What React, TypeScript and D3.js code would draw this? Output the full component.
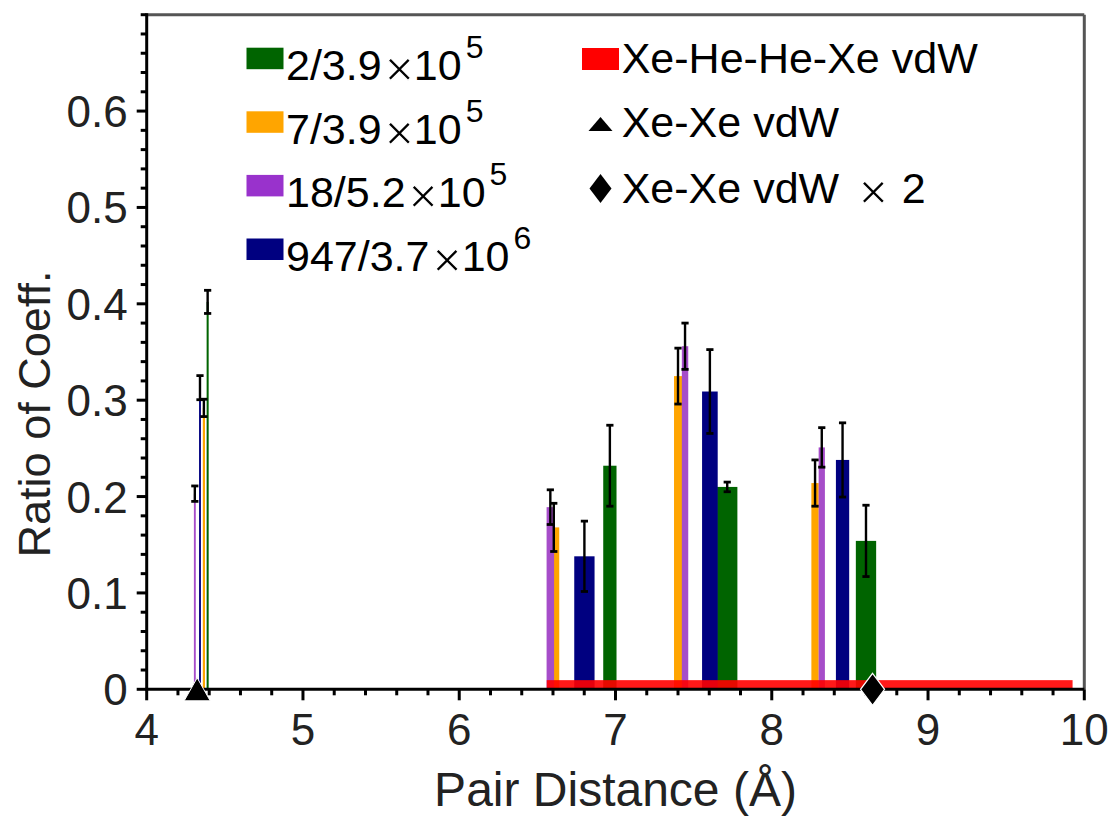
import React from "react";
import * as d3 from "d3";

// ---------- data ----------
const seriesLabels = ["2/3.9", "7/3.9", "18/5.2", "947/3.7"];
const seriesExponents = ["5", "5", "5", "6"];
const seriesColors = ["#006400", "#ffa500", "#a64dc9", "#000080"];
const legendColors = ["#006400", "#ffa500", "#9932cc", "#000080"];

// bar centre (Å), bar width (Å), value, error half-width
const greenX = [4.39, 6.964, 7.715, 8.603];
const greenW = [0.013, 0.085, 0.13, 0.13];
const greenV = [0.402, 0.232, 0.21, 0.154];
const greenE = [0.012, 0.042, 0.005, 0.037];

const orangeX = [4.366, 6.605, 7.4, 8.277];
const orangeW = [0.014, 0.07, 0.051, 0.047];
const orangeV = [0.292, 0.168, 0.325, 0.214];
const orangeE = [0.009, 0.025, 0.029, 0.024];

const purpleX = [4.308, 6.583, 7.445, 8.32];
const purpleW = [0.012, 0.048, 0.041, 0.04];
const purpleV = [0.203, 0.189, 0.356, 0.251];
const purpleE = [0.008, 0.018, 0.024, 0.0205];

const blueX = [4.341, 6.801, 7.604, 8.453];
const blueW = [0.012, 0.13, 0.1, 0.085];
const blueV = [0.313, 0.138, 0.309, 0.238];
const blueE = [0.0125, 0.0365, 0.0435, 0.0385];

const seriesX = [greenX, orangeX, purpleX, blueX];
const seriesW = [greenW, orangeW, purpleW, blueW];
const seriesV = [greenV, orangeV, purpleV, blueV];
const seriesE = [greenE, orangeE, purpleE, blueE];

const vdwBand = [6.56, 9.925]; // Xe-He-He-Xe vdW range
const vdwBandHeight = 0.0095;
const xeXeVdw = 4.323;
const xeXeVdw2 = 8.645;

const xTickValues = [4, 5, 6, 7, 8, 9, 10];
const yTickValues = [0, 0.1, 0.2, 0.3, 0.4, 0.5, 0.6];

const xLabel = "Pair Distance (Å)";
const yLabel = "Ratio of Coeff.";
const rightLegend = ["Xe-He-He-Xe vdW", "Xe-Xe vdW", "Xe-Xe vdW"];

// ---------- layout ----------
const W = 1111;
const H = 820;
const left = 146.7;
const right = 1084.3;
const top = 14.7;
const bottom = 689.3;
const FONT = "'Liberation Sans', Arial, Helvetica, sans-serif";

export default function App() {
  const x = d3.scaleLinear().domain([4, 10]).range([left, right]);
  const y = d3.scaleLinear().domain([0, 0.7]).range([bottom, top]);

  const xMinor = d3.range(4, 10.001, 0.2).filter(
    (v) => Math.abs(v - Math.round(v)) > 1e-6
  );
  const yMinor = d3.range(0, 0.7001, 0.02).filter(
    (v) => Math.abs(v * 10 - Math.round(v * 10)) > 1e-6 || v > 0.65
  );

  const bars: any[] = [];
  seriesX.forEach((xs, s) => {
    xs.forEach((c, i) => {
      bars.push({
        s,
        c,
        w: seriesW[s][i],
        v: seriesV[s][i],
        e: seriesE[s][i],
      });
    });
  });

  const tri = (cx: number, cy: number, w: number, h: number) =>
    `M${cx},${cy - h / 2}L${cx + w / 2},${cy + h / 2}L${cx - w / 2},${cy + h / 2}Z`;
  const dia = (cx: number, cy: number, w: number, h: number) =>
    `M${cx},${cy - h / 2}L${cx + w / 2},${cy}L${cx},${cy + h / 2}L${cx - w / 2},${cy}Z`;

  const capHalf = 3.6;
  const timesProps = {
    fontSize: 50,
    stroke: "#fff",
    strokeWidth: 1.2,
  };

  return (
    <svg
      width={W}
      height={H}
      style={{ position: "absolute", left: 0, top: 0, background: "#fff" }}
      fontFamily={FONT}
    >
      <rect x={0} y={0} width={W} height={H} fill="#fff" />

      {/* bars */}
      {bars.map((b, i) => (
        <rect
          key={"b" + i}
          x={x(b.c - b.w / 2)}
          width={x(b.c + b.w / 2) - x(b.c - b.w / 2)}
          y={y(b.v)}
          height={y(0) - y(b.v)}
          fill={seriesColors[b.s]}
        />
      ))}

      {/* error bars */}
      {bars.map((b, i) => {
        const cx = x(b.c);
        const y1 = y(b.v + b.e);
        const y2 = y(b.v - b.e);
        return (
          <g key={"e" + i} stroke="#000" strokeWidth={2.4}>
            <line x1={cx} x2={cx} y1={y1} y2={y2} />
            <line x1={cx - capHalf} x2={cx + capHalf} y1={y1} y2={y1} strokeWidth={2.8} />
            <line x1={cx - capHalf} x2={cx + capHalf} y1={y2} y2={y2} strokeWidth={2.8} />
          </g>
        );
      })}

      {/* Xe-He-He-Xe vdW band */}
      <rect
        x={x(vdwBand[0])}
        width={x(vdwBand[1]) - x(vdwBand[0])}
        y={y(vdwBandHeight)}
        height={y(0) - y(vdwBandHeight)}
        fill="#ff0000"
        fillOpacity={0.9}
      />

      {/* frame */}
      <line x1={left} x2={right} y1={top} y2={top} stroke="#555" strokeWidth={3} />
      <line x1={right} x2={right} y1={top} y2={bottom} stroke="#555" strokeWidth={3} />
      <line x1={left} x2={left} y1={top - 1.5} y2={bottom + 1.5} stroke="#000" strokeWidth={3} />
      <line x1={left - 1.5} x2={right} y1={bottom} y2={bottom} stroke="#000" strokeWidth={3} />

      {/* x ticks */}
      {xTickValues.map((v) => (
        <g key={"xt" + v}>
          <line x1={x(v)} x2={x(v)} y1={bottom} y2={bottom + 11} stroke="#000" strokeWidth={3} />
          <text x={x(v)} y={bottom + 56} textAnchor="middle" fontSize={44} fill="#222">
            {v}
          </text>
        </g>
      ))}
      {xMinor.map((v, i) => (
        <line key={"xm" + i} x1={x(v)} x2={x(v)} y1={bottom} y2={bottom + 6} stroke="#000" strokeWidth={3} />
      ))}

      {/* y ticks */}
      {yTickValues.map((v) => (
        <g key={"yt" + v}>
          <line x1={left - 10} x2={left} y1={y(v)} y2={y(v)} stroke="#000" strokeWidth={3} />
          <text x={left - 19} y={y(v) + 16} textAnchor="end" fontSize={44} fill="#222">
            {v === 0 ? "0" : v.toFixed(1)}
          </text>
        </g>
      ))}
      {yMinor.map((v, i) => (
        <line key={"ym" + i} x1={left - 6} x2={left} y1={y(v)} y2={y(v)} stroke="#000" strokeWidth={3} />
      ))}

      {/* axis titles */}
      <text x={(left + right) / 2} y={806} textAnchor="middle" fontSize={48} fill="#222">
        {xLabel}
      </text>
      <text
        transform={`translate(50, 414) rotate(-90)`}
        textAnchor="middle"
        fontSize={45}
        fill="#222"
      >
        {yLabel}
      </text>

      {/* markers */}
      <path d={tri(x(xeXeVdw), y(0), 26, 23)} fill="#000" stroke="#fff" strokeWidth={1} />
      <path d={dia(x(xeXeVdw2), y(0), 24, 32)} fill="#000" stroke="#fff" strokeWidth={1.2} />

      {/* legend left */}
      {seriesLabels.map((lab, i) => {
        const ty = 80 + i * 63.6;
        return (
          <g key={"lg" + i}>
            <rect x={246.5} y={ty - 32.3} width={37} height={21.5} fill={legendColors[i]} />
            <text x={286} y={ty} fontSize={43} fill="#000">
              {lab}
              <tspan {...timesProps} dx={3} dy={6}>×</tspan>
              <tspan dx={0} dy={-6}>10</tspan>
              <tspan fontSize={32} dx={4} dy={-22}>{seriesExponents[i]}</tspan>
            </text>
          </g>
        );
      })}

      {/* legend right */}
      <rect x={582} y={48} width={37} height={22} fill="#ff0000" />
      <text x={621.7} y={73.3} fontSize={43} fill="#000">
        {rightLegend[0]}
      </text>
      <path d={tri(600.5, 124, 24, 14)} fill="#000" />
      <text x={621.7} y={137.3} fontSize={43} fill="#000">
        {rightLegend[1]}
      </text>
      <path d={dia(600.5, 188.5, 22, 29)} fill="#000" />
      <text x={621.7} y={202.7} fontSize={43} fill="#000">
        {rightLegend[2]}
        <tspan {...timesProps} dx={19.6} dy={6}>×</tspan>
        <tspan dx={13.7} dy={-6}>2</tspan>
      </text>
    </svg>
  );
}
